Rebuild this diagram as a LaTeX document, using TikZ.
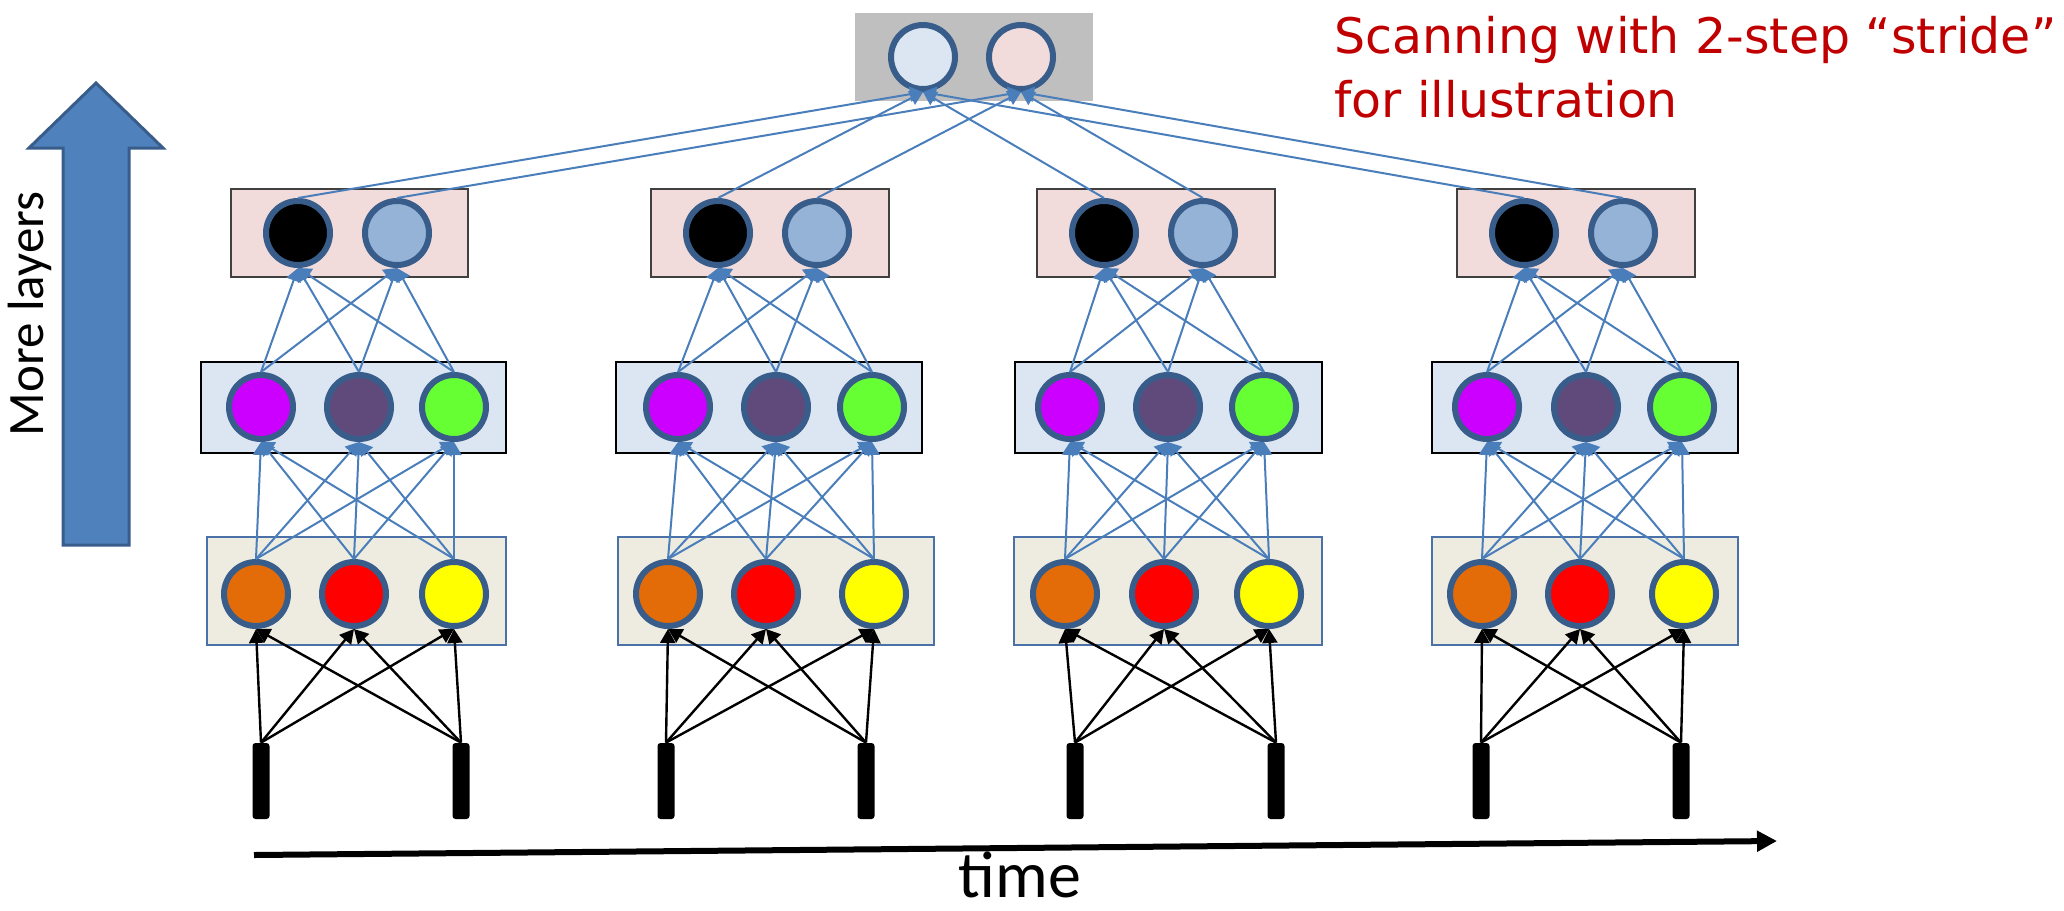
\documentclass[tikz,border=0pt]{standalone}
\usepackage{fontspec}
\setmainfont{Carlito}
\newfontfamily\redfont{DejaVu Sans}
\usetikzlibrary{arrows.meta}
\definecolor{nstroke}{HTML}{385D8A}
\definecolor{lineblue}{HTML}{4A7EBB}
\definecolor{arrowfill}{HTML}{4F81BD}
\definecolor{graybg}{HTML}{BFBFBF}
\definecolor{pinkbg}{HTML}{F2DCDB}
\definecolor{bluebg}{HTML}{DCE6F2}
\definecolor{beigebg}{HTML}{EEECE1}
\definecolor{beigeline}{HTML}{4A72A8}
\definecolor{nlb}{HTML}{95B3D7}
\definecolor{nmag}{HTML}{CC00FF}
\definecolor{npur}{HTML}{604A7B}
\definecolor{ngreen}{HTML}{66FF33}
\definecolor{norange}{HTML}{E36C09}
\definecolor{nred}{HTML}{FF0000}
\definecolor{nyellow}{HTML}{FFFF00}
\definecolor{redtxt}{HTML}{C00000}
\begin{document}
\begin{tikzpicture}[x=0.5pt,y=-0.5pt,
  neuron/.style={circle,draw=nstroke,line width=3pt,minimum size=32pt,inner sep=0pt},
  inbar/.style={rectangle,fill=black,rounded corners=1.5pt,minimum width=8.5pt,minimum height=38pt,inner sep=0pt},
  pinkbox/.style={fill=pinkbg,draw=black!75,line width=0.7pt},
  bluebox/.style={fill=bluebg,draw=black,line width=0.7pt},
  beigebox/.style={fill=beigebg,draw=beigeline,line width=0.7pt},
  bluearr/.style={draw=lineblue,line width=1pt,-{Triangle[length=6.5pt,width=7.5pt]}},
  blackarr/.style={draw=black,line width=1.2pt,-{Triangle[length=7pt,width=7.5pt]}},
  timearr/.style={draw=black,line width=3pt,-{Triangle[length=10pt,width=10pt]}},
  bigarrow/.style={fill=arrowfill,draw=nstroke,line width=1.5pt,line join=miter},
  lbl/.style={inner sep=0pt,font=\fontsize{25.5pt}{29pt}\selectfont}
]
\useasboundingbox (0,0) rectangle (2064,910);

% big "More layers" arrow
\draw[bigarrow] (63,545) -- (63,148) -- (29,148) -- (96,83) -- (163,148) -- (129,148) -- (129,545) -- cycle;
\node[lbl,rotate=90,anchor=base] (ml) at (43,314) {More layers};

% top layer
\fill[graybg] (855,13) rectangle (1093,101);
\node[neuron,fill=bluebg] (T1) at (923,57) {};
\node[neuron,fill=pinkbg] (T2) at (1021,57) {};

\foreach \k/\pl/\pr/\ka/\kb/\bl/\br/\ba/\bb/\bc/\el/\er/\ea/\eb/\ec/\xa/\xb in {
  1/231/468/298/397/201/506/261/359/454/207/506/256/354/454/261/461,
  2/651/889/718/817/616/922/678/776/872/618/934/668/766/874/666/866,
  3/1037/1275/1104/1203/1015/1322/1070/1168/1264/1014/1322/1065/1164/1269/1075/1276,
  4/1457/1695/1524/1623/1432/1738/1487/1586/1682/1432/1738/1482/1580/1684/1481/1681}{
  \draw[pinkbox] (\pl,189) rectangle (\pr,277);
  \draw[bluebox] (\bl,362) rectangle (\br,453);
  \draw[beigebox] (\el,537) rectangle (\er,645);
  \node[neuron,fill=black] (k\k-1) at (\ka,233) {};
  \node[neuron,fill=nlb] (k\k-2) at (\kb,233) {};
  \node[neuron,fill=nmag] (b\k-1) at (\ba,407) {};
  \node[neuron,fill=npur] (b\k-2) at (\bb,407) {};
  \node[neuron,fill=ngreen] (b\k-3) at (\bc,407) {};
  \node[neuron,fill=norange] (e\k-1) at (\ea,594) {};
  \node[neuron,fill=nred] (e\k-2) at (\eb,594) {};
  \node[neuron,fill=nyellow] (e\k-3) at (\ec,594) {};
  \node[inbar] (x\k-1) at (\xa,781) {};
  \node[inbar] (x\k-2) at (\xb,781) {};
  \foreach \i in {1,2}{\foreach \j in {1,2,3}{\draw[blackarr] (x\k-\i.north) -- (e\k-\j.south);}}
  \foreach \i in {1,2,3}{\foreach \j in {1,2,3}{\draw[bluearr] (e\k-\i.north) -- (b\k-\j.south);}}
  \foreach \i in {1,2,3}{\foreach \j in {1,2}{\draw[bluearr] (b\k-\i.north) -- (k\k-\j.south);}}
  \draw[bluearr] (k\k-1.north) -- (T1.south);
  \draw[bluearr] (k\k-2.north) -- (T2.south);
}

% time axis
\coordinate (tA) at (254,855);
\coordinate (tB) at (1777,841);
\draw[timearr] (tA) -- (tB);
\node[inner sep=0pt,anchor=base,font=\fontsize{33pt}{36pt}\selectfont] (time) at (1020,897) {time};

% annotation
\node[inner sep=0pt,anchor=base west,text=redtxt,font=\redfont\fontsize{24.5pt}{30pt}\selectfont] (s1) at (1334,53) {Scanning with 2-step “stride”};
\node[inner sep=0pt,anchor=base west,text=redtxt,font=\redfont\fontsize{24.5pt}{30pt}\selectfont] (s2) at (1334,117) {for illustration};
\end{tikzpicture}
\end{document}
